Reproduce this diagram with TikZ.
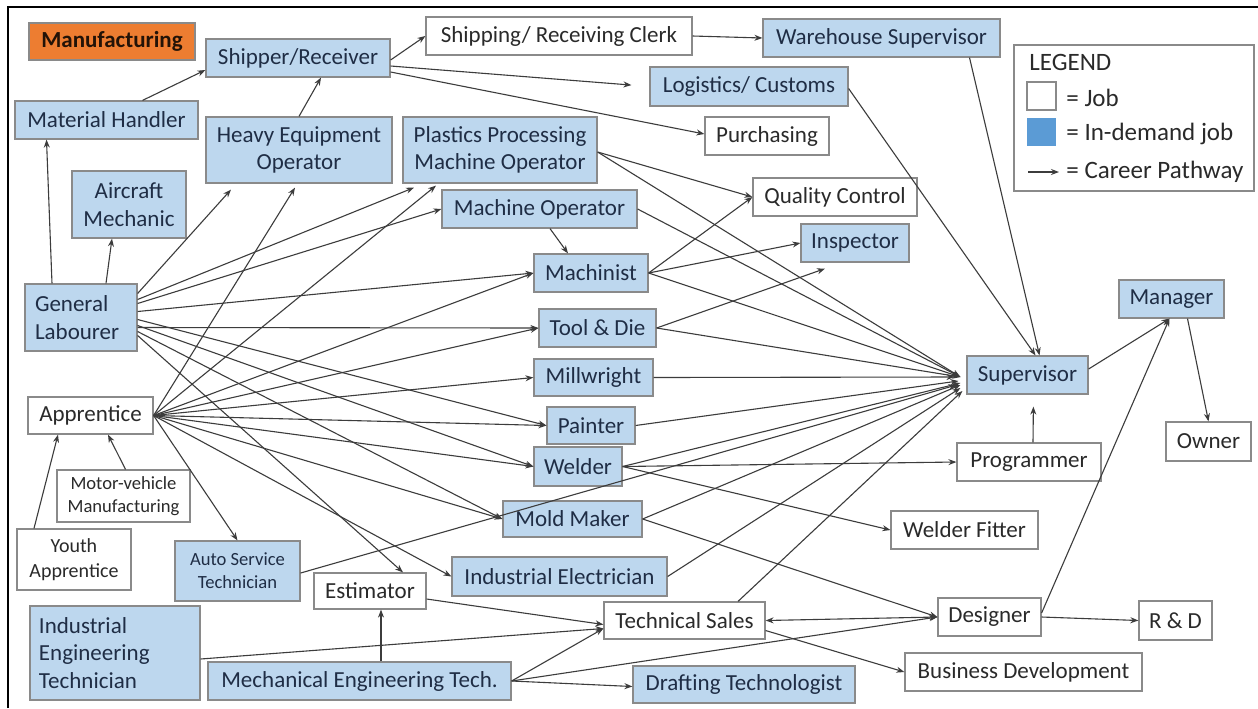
\documentclass[tikz,border=0pt]{standalone}
\usepackage{fontspec}
\setmainfont{Carlito}
\usetikzlibrary{arrows.meta}
\definecolor{lblue}{HTML}{BDD7EE}
\definecolor{bgray}{HTML}{8A8A8A}
\definecolor{lgray}{HTML}{3C3C3C}
\definecolor{legblue}{HTML}{5B9BD5}
\definecolor{orng}{HTML}{ED7D31}
\definecolor{txtblue}{HTML}{1F2D45}
\definecolor{txtgray}{HTML}{2A2A2A}
\newcommand\myfn{\fontsize{11.5}{13.8}\selectfont}
\newcommand\mysm{\fontsize{9.3}{11.5}\selectfont}
\newcommand\myya{\fontsize{10}{12.5}\selectfont}
\newcommand\mylg{\fontsize{12.5}{15}\selectfont}
\begin{document}
\begin{tikzpicture}[x=0.5pt,y=-0.5pt,
  box/.style={draw=bgray, line width=0.6pt, inner sep=0pt, align=center, font=\myfn, text=txtgray},
  jobw/.style={box, fill=white},
  jobb/.style={box, fill=lblue, text=txtblue},
  jobo/.style={box, fill=orng, text=black!85!orng, font=\myfn\bfseries},
  cp/.style={draw=lgray, line width=0.55pt, -{Stealth[length=4pt,width=3pt]}},
  cpb/.style={draw=lgray, line width=0.55pt, {Stealth[length=4pt,width=3pt]}-{Stealth[length=4pt,width=3pt]}},
  legtxt/.style={anchor=west, inner sep=0pt, font=\mylg, text=txtgray}]
\useasboundingbox (0,0) rectangle (1258,708);
\fill[white] (0,0) rectangle (1258,708);
\draw[line width=1.2pt, black] (8,708) -- (8,7) -- (1258,7);

% ---------- nodes ----------
\node[jobo, minimum width=83pt, minimum height=18.5pt] (manu) at (112,41.5) {Manufacturing};
\node[jobb, minimum width=92pt, minimum height=19pt] (ship) at (298,58) {Shipper/Receiver};
\node[jobw, minimum width=133pt, minimum height=19pt] (clerk) at (559,36) {Shipping/ Receiving Clerk};
\node[jobb, minimum width=118.5pt, minimum height=19pt] (wsup) at (881.5,38) {Warehouse Supervisor};
\node[jobb, minimum width=99pt, minimum height=19.5pt] (logi) at (749,86.5) {Logistics/ Customs};
\node[jobw, minimum width=62pt, minimum height=19pt] (purch) at (767,136) {Purchasing};
\node[jobb, minimum width=91.5pt, minimum height=19pt] (mh) at (106.5,120) {Material Handler};
\node[jobb, minimum width=93pt, minimum height=33pt] (heo) at (299,150) {Heavy Equipment\\Operator};
\node[jobb, minimum width=97pt, minimum height=33pt] (ppmo) at (500,150) {Plastics Processing\\Machine Operator};
\node[jobb, minimum width=57pt, minimum height=33.5pt] (air) at (129,204.5) {Aircraft\\Mechanic};
\node[jobb, minimum width=97.5pt, minimum height=19pt] (mo) at (539.5,209) {Machine Operator};
\node[jobw, minimum width=82pt, minimum height=19pt] (qc) at (835,197) {Quality Control};
\node[jobb, minimum width=54pt, minimum height=19pt] (insp) at (855,243) {Inspector};
\node[jobb, minimum width=57pt, minimum height=19pt] (mach) at (591,273) {Machinist};
\node[jobb, minimum width=58.5pt, minimum height=19pt] (tool) at (597.5,328) {Tool \& Die};
\node[jobb, minimum width=59.5pt, minimum height=18.5pt] (mill) at (593.5,377.5) {Millwright};
\node[jobb, minimum width=44pt, minimum height=18.5pt] (paint) at (591,425.5) {Painter};
\node[jobb, minimum width=44pt, minimum height=19.5pt] (weld) at (578,466.5) {Welder};
\node[jobb, minimum width=69.5pt, minimum height=18pt] (mold) at (572.5,519) {Mold Maker};
\node[jobb, minimum width=107.5pt, minimum height=19.5pt] (ie) at (559.5,576.5) {Industrial Electrician};
\node[jobb, minimum width=60.5pt, minimum height=19pt] (sup) at (1027.5,375) {Supervisor};
\node[jobb, minimum width=52.5pt, minimum height=19pt] (mgr) at (1171.5,299) {Manager};
\node[jobw, minimum width=42.5pt, minimum height=19.5pt] (owner) at (1208.5,441.5) {Owner};
\node[jobw, minimum width=72pt, minimum height=19pt] (prog) at (1029,462) {Programmer};
\node[jobw, minimum width=73.5pt, minimum height=19pt] (wf) at (964.5,530) {Welder Fitter};
\node[jobw, minimum width=51.5pt, minimum height=19pt] (des) at (989.5,617) {Designer};
\node[jobw, minimum width=36.5pt, minimum height=19.5pt] (rd) at (1175.5,620.5) {R \& D};
\node[jobw, minimum width=118.5pt, minimum height=19pt] (bd) at (1023.5,672) {Business Development};
\node[jobw, minimum width=80.5pt, minimum height=18.5pt] (ts) at (684.5,620.5) {Technical Sales};
\node[jobb, minimum width=111pt, minimum height=18.5pt] (dt) at (744,684.5) {Drafting Technologist};
\node[jobb, text width=46pt, inner xsep=5pt, align=left, minimum height=33.5pt] (gl) at (81,317.5) {General\\Labourer};
\node[jobw, minimum width=62.5pt, minimum height=18.5pt] (appr) at (90.5,415.5) {Apprentice};
\node[jobw, font=\mysm, minimum width=66.5pt, minimum height=26pt] (mvm) at (123.5,496) {Motor-vehicle\\Manufacturing};
\node[jobw, font=\myya, minimum width=57pt, minimum height=30.5pt] (ya) at (74,559.5) {Youth\\Apprentice};
\node[jobb, font=\mysm, minimum width=62.5pt, minimum height=30pt] (ast) at (237.5,571) {Auto Service\\Technician};
\node[jobw, minimum width=56pt, minimum height=18pt] (est) at (370,591) {Estimator};
\node[jobb, text width=76pt, inner xsep=4.5pt, align=left, minimum height=47pt] (iet) at (115,653) {Industrial\\Engineering\\Technician};
\node[jobb, minimum width=151.5pt, minimum height=19pt] (met) at (359.5,681) {Mechanical Engineering Tech.};

% ---------- legend ----------
\node[draw=bgray, line width=0.6pt, fill=white, minimum width=120pt, minimum height=73pt, inner sep=0pt] (leg) at (1134,118) {};
\node[legtxt] (legt) at (1029,62) {LEGEND};
\node[draw=bgray, line width=0.6pt, fill=white, minimum width=14.5pt, minimum height=14pt, inner sep=0pt] (lw) at (1041.5,96) {};
\node[fill=legblue, minimum width=14.5pt, minimum height=14pt, inner sep=0pt] (lb) at (1041.5,132) {};
\node[legtxt] (ljob) at (1066,98) {= Job};
\node[legtxt] (ldem) at (1066,134) {= In-demand job};
\node[legtxt] (lpath) at (1066,172) {= Career Pathway};
\coordinate (la1) at (1028,172);
\coordinate (la2) at (1059,172);
\draw[cp] (la1) -- (la2);

% ---------- connectors ----------
\draw[cp] ([xshift=18pt]mh.north) -- ([yshift=-6pt]ship.west);
\draw[cp] ([xshift=-14.5pt]gl.north) -- ([xshift=-30pt]mh.south);
\draw[cp] ([xshift=12.5pt]gl.north) -- ([xshift=-8.5pt]air.south);
\draw[cp] (heo.north) -- ([xshift=11.5pt]ship.south);
\draw[cp] ([yshift=-1pt]ship.east) -- (clerk.west);
\draw[cp, shorten >=9pt] ([yshift=-4pt]ship.east) -- (logi.west);
\draw[cp] ([yshift=-7pt]ship.east) -- ([yshift=1pt]purch.west);
\draw[cp] (clerk.east) -- (wsup.west);
\draw[cp] ([xshift=44pt]wsup.south) -- ([xshift=6pt]sup.north);
\draw[cp] ([yshift=-1pt]logi.east) -- ([xshift=4pt]sup.north);
\draw[cp] ([yshift=3pt]sup.east) -- ([xshift=-1pt]mgr.south);
\draw[cp] ([xshift=8pt]mgr.south) -- (owner.north);
\draw[cp] ([yshift=2pt]des.east) -- ([xshift=-1pt]mgr.south);
\draw[cp, shorten >=6pt] ([xshift=2pt]prog.north) -- ([xshift=3pt]sup.south);
\draw[cp] (weld.east) -- (prog.west);
\draw[cp] (weld.east) -- (wf.west);
\draw[cp] (des.east) -- (rd.west);
\draw[cpb] (ts.east) -- (des.west);
\draw[cp] ([yshift=-5pt]ts.east) -- (bd.west);
\draw[cp] (met.east) -- (des.west);
\draw[cp] (met.east) -- ([yshift=-4pt]ts.west);
\draw[cp] (met.east) -- ([yshift=-1pt]dt.west);
\draw[cp] ([xshift=10.75pt]met.north) -- ([xshift=5.5pt]est.south);
\draw[cp] ([yshift=-4pt]est.east) -- ([yshift=-2pt]ts.west);
\draw[cp] ([yshift=-3pt]iet.east) -- ([yshift=-4pt]ts.west);
\draw[cp] ([xshift=5.25pt]mo.south) -- ([xshift=-11.5pt]mach.north);
\draw[cp] ([yshift=-1pt]ppmo.east) -- (qc.west);
\draw[cp] (mach.east) -- (qc.west);
\draw[cp] (mach.east) -- (insp.west);
\draw[cp] (tool.east) -- ([xshift=-15pt,yshift=-3pt]insp.south);
\draw[cp] (mold.east) -- (des.west);

% into Supervisor
\draw[cp] ([yshift=-1pt]ppmo.east) -- ([xshift=-3pt,yshift=-1pt]sup.west);
\draw[cp] (mo.east) -- ([xshift=-3pt,yshift=-1pt]sup.west);
\draw[cp] (mach.east) -- ([xshift=-3pt,yshift=-1pt]sup.west);
\draw[cp] (tool.east) -- ([xshift=-3pt,yshift=-1pt]sup.west);
\draw[cp] (mill.east) -- ([xshift=-6pt,yshift=-1pt]sup.west);
\draw[cp] (paint.east) -- ([xshift=-4pt,yshift=-3pt]sup.west);
\draw[cp] (weld.east) -- ([xshift=-3pt,yshift=-4pt]sup.west);
\draw[cp] (mold.east) -- ([xshift=-3pt,yshift=-5pt]sup.west);
\draw[cp] (ie.east) -- ([xshift=-3pt,yshift=-6.5pt]sup.west);
\draw[cp] ([yshift=-1pt]ast.east) -- ([xshift=-5pt,yshift=-5pt]sup.west);
\draw[cp] ([xshift=26.75pt]ts.north) -- ([xshift=-2pt,yshift=-8pt]sup.west);

% from General Labourer
\draw[cp] ([yshift=12pt]gl.east) -- ([xshift=-34pt,yshift=-3pt]heo.south);
\draw[cp] ([yshift=9pt]gl.east) -- ([xshift=-43pt,yshift=-2pt]ppmo.south);
\draw[cp] ([yshift=7pt]gl.east) -- (mo.west);
\draw[cp] ([yshift=3pt]gl.east) -- (mach.west);
\draw[cp] ([yshift=-5pt]gl.east) -- (tool.west);
\draw[cp] ([yshift=-1pt]gl.east) -- (paint.west);
\draw[cp] ([yshift=-4pt]gl.east) -- (weld.west);
\draw[cp] ([yshift=-7pt]gl.east) -- (mold.west);
\draw[cp] ([yshift=-9pt]gl.east) -- ([xshift=16.5pt]est.north);

% from Apprentice
\draw[cp] (appr.east) -- ([xshift=-2pt,yshift=-2pt]heo.south);
\draw[cp] (appr.east) -- ([xshift=-32pt,yshift=-1pt]ppmo.south);
\draw[cp] (appr.east) -- (mach.west);
\draw[cp] (appr.east) -- (tool.west);
\draw[cp] (appr.east) -- (mill.west);
\draw[cp] (appr.east) -- (paint.west);
\draw[cp] (appr.east) -- (weld.west);
\draw[cp] (appr.east) -- (mold.west);
\draw[cp] (appr.east) -- (ie.west);
\draw[cp] (appr.east) -- (ast.north);
\draw[cp] ([xshift=-20pt]ya.north) -- ([xshift=-16.25pt]appr.south);
\draw[cp] ([xshift=1pt]mvm.north) -- ([xshift=8.75pt]appr.south);
\end{tikzpicture}
\end{document}
